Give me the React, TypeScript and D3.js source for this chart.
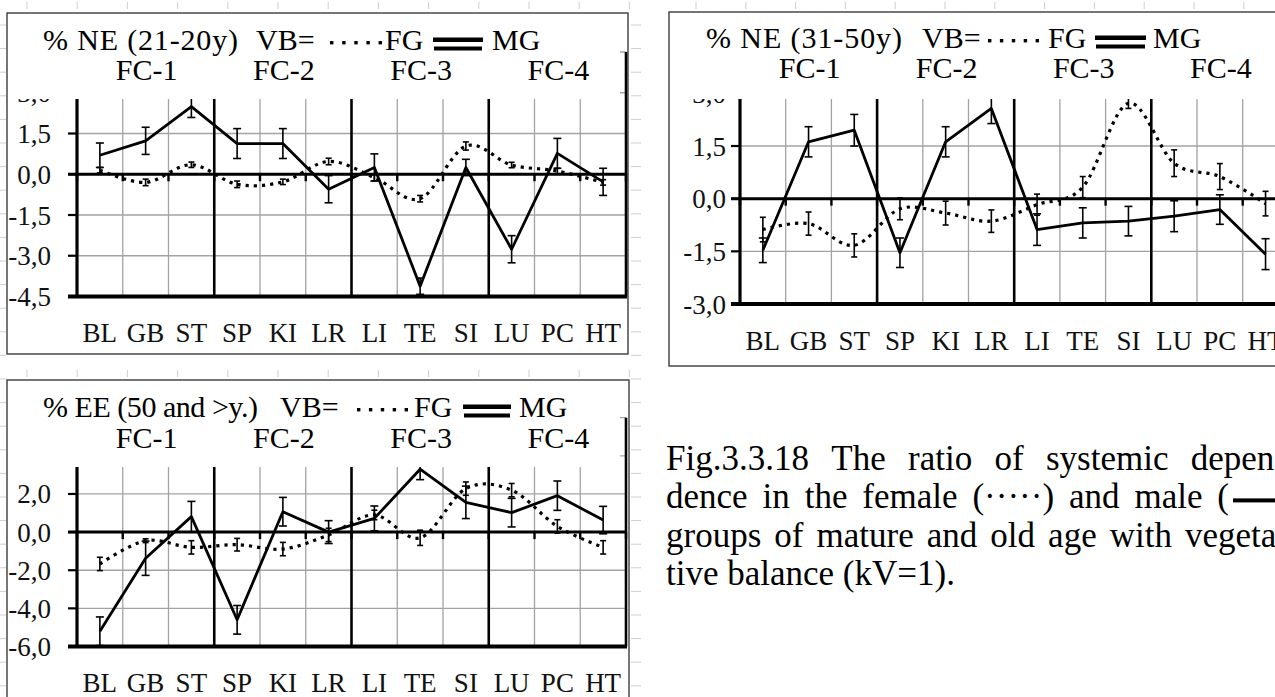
import { useEffect, useRef } from 'react';
import * as d3 from 'd3';

// categories (organ meridians) and functional circles
const organs = ['BL', 'GB', 'ST', 'SP', 'KI', 'LR', 'LI', 'TE', 'SI', 'LU', 'PC', 'HT'];
const groups = ['FC-1', 'FC-2', 'FC-3', 'FC-4'];

// % NE (21-20y)
const ne21MG = [0.7, 1.23, 2.49, 1.13, 1.13, -0.55, 0.25, -4.12, 0.25, -2.76, 0.77, -0.28];
const ne21MGErr = [0.45, 0.5, 0.4, 0.55, 0.55, 0.5, 0.5, 0.3, 0.3, 0.5, 0.55, 0.5];
const ne21FG = [0.15, -0.3, 0.35, -0.37, -0.28, 0.47, -0.12, -0.9, 1.04, 0.34, 0.12, -0.3];
const ne21FGErr = [0.1, 0.12, 0.1, 0.12, 0.1, 0.12, 0.12, 0.12, 0.15, 0.1, 0.1, 0.1];
const ne21Ticks = [-4.5, -3, -1.5, 0, 1.5, 3, 4.5];

// % NE (31-50y)
const ne31MG = [-1.47, 1.62, 1.95, -1.54, 1.62, 2.57, -0.88, -0.69, -0.64, -0.5, -0.31, -1.58];
const ne31MGErr = [0.35, 0.43, 0.45, 0.42, 0.43, 0.43, 0.45, 0.43, 0.42, 0.44, 0.42, 0.44];
const ne31FG = [-0.88, -0.71, -1.33, -0.29, -0.41, -0.64, -0.17, 0.33, 2.72, 1.01, 0.63, -0.14];
const ne31FGErr = [0.35, 0.33, 0.33, 0.31, 0.34, 0.32, 0.3, 0.3, 0.15, 0.38, 0.37, 0.35];
const ne31Ticks = [-3, -1.5, 0, 1.5, 3, 4.5];

// % EE (50 and >y.)
const ee50MG = [-5.2, -1.37, 0.81, -4.6, 1.07, 0.0, 0.72, 3.3, 1.56, 1.02, 1.91, 0.63];
const ee50MGErr = [0.75, 0.9, 0.8, 0.75, 0.75, 0.6, 0.65, 0.55, 0.85, 0.75, 0.77, 0.72];
const ee50FG = [-1.67, -0.45, -0.8, -0.66, -0.89, -0.15, 0.9, -0.3, 2.28, 2.2, 0.3, -0.8];
const ee50FGErr = [0.35, 0.1, 0.35, 0.33, 0.35, 0.35, 0.25, 0.4, 0.35, 0.35, 0.35, 0.35];
const ee50Ticks = [-6, -4, -2, 0, 2, 4, 6];

const captionLines = [
  'Fig.3.3.18 The ratio of systemic depen-',
  'dence in the female (·····) and male (',
  'groups of mature and old age with vegeta-',
  'tive balance (kV=1).',
];

const W = 1275;
const H = 697;
const serif = '"Liberation Serif", "Times New Roman", serif';

const fmt = d3
  .formatLocale({ decimal: ',', thousands: ' ', grouping: [3], currency: ['', ''], minus: '-' })
  .format('.1f');

const panels = [
  {
    title: '% NE (21-20y)', titleX: 43, titleLen: 195, vbX: 256,
    fgX: 385, mgX: 492, row1: 50, row2: 80,
    dotsX: [330, 382], dblX: [433, 483],
    frame: [7, 13, 628, 354], cover: [9, 15, 611, 84],
    left: 77, step: 45.75, top: 52, bottom: 296.5, domain: [-4.5, 4.5], labelX: 51,
    ticks: ne21Ticks, mg: ne21MG, mgErr: ne21MGErr, fg: ne21FG, fgErr: ne21FGErr,
  },
  {
    title: '% NE (31-50y)', titleX: 706, titleLen: 196, vbX: 922,
    fgX: 1048, mgX: 1153, row1: 48, row2: 78,
    dotsX: [988, 1039], dblX: [1095, 1146],
    frame: [669, 12, 1295, 366], cover: [671, 14, 620, 85],
    left: 740, step: 45.7, top: 40.7, bottom: 304, domain: [-3, 4.5], labelX: 726,
    ticks: ne31Ticks, mg: ne31MG, mgErr: ne31MGErr, fg: ne31FG, fgErr: ne31FGErr,
  },
  {
    title: '% EE (50 and >y.)', titleX: 43, titleLen: 215, vbX: 280,
    fgX: 414, mgX: 519, row1: 417, row2: 448,
    dotsX: [357, 408], dblX: [463, 511],
    frame: [7, 380, 629, 720], cover: [9, 382, 611, 85],
    left: 77, step: 45.75, top: 417.7, bottom: 646.5, domain: [-6, 6], labelX: 51,
    ticks: ee50Ticks, mg: ee50MG, mgErr: ee50MGErr, fg: ee50FG, fgErr: ee50FGErr,
  },
];

function drawStubs(svg: any) {
  const g = svg.append('g').attr('stroke', '#cfcfcf').attr('stroke-width', 1);
  const colA = d3.range(0, 13).map(k => 27 + 50.2 * k);
  const colB = d3.range(0, 12).map(k => 696 + 49.8 * k);
  [...colA, ...colB].forEach(x => {
    g.append('line').attr('x1', x).attr('x2', x).attr('y1', 2).attr('y2', 9);
  });
  colA.forEach(x => {
    g.append('line').attr('x1', x).attr('x2', x).attr('y1', 370).attr('y2', 377);
  });
  d3.range(0, 29).map(k => 25 + 23.6 * k).forEach(y => {
    g.append('line').attr('x1', 0).attr('x2', 6).attr('y1', y).attr('y2', y);
    g.append('line').attr('x1', 631).attr('x2', 641).attr('y1', y).attr('y2', y);
  });
}

function drawPanel(svg: any, p: any) {
  const g = svg.append('g');
  const [fx0, fy0, fx1, fy1] = p.frame;
  g.append('rect')
    .attr('x', fx0).attr('y', fy0)
    .attr('width', fx1 - fx0).attr('height', fy1 - fy0)
    .attr('fill', '#fff').attr('stroke', '#3c3c3c').attr('stroke-width', 1.4);

  const x = d3.scaleBand().domain(organs).range([p.left, p.left + organs.length * p.step]);
  const y = d3.scaleLinear().domain(p.domain).range([p.bottom, p.top]);
  const [x0, x1] = x.range();
  const cx = (i: number) => (x(organs[i]) as number) + x.bandwidth() / 2;
  const edges = d3.range(organs.length + 1).map(i => x0 + i * x.step());
  const y0 = y(0);
  const coverBottom = p.cover[1] + p.cover[3];

  // grid
  p.ticks.filter((v: number) => v !== 0 && v !== p.domain[0]).forEach((v: number) => {
    g.append('line').attr('x1', x0).attr('x2', x1).attr('y1', y(v)).attr('y2', y(v))
      .attr('stroke', '#a3a3a3').attr('stroke-width', 1.3);
  });
  edges.forEach((e, i) => {
    if (i === 0) return;
    const sep = i % 3 === 0;
    g.append('line').attr('x1', e).attr('x2', e).attr('y1', p.top).attr('y2', p.bottom)
      .attr('stroke', sep ? '#000' : '#a3a3a3').attr('stroke-width', sep ? 2.6 : 1.3);
  });

  // axes
  g.append('line').attr('x1', x0).attr('x2', x0).attr('y1', p.top).attr('y2', p.bottom + 1.5)
    .attr('stroke', '#000').attr('stroke-width', 3.2);
  p.ticks.forEach((v: number) => {
    g.append('line').attr('x1', x0 - 9).attr('x2', x0).attr('y1', y(v)).attr('y2', y(v))
      .attr('stroke', '#000').attr('stroke-width', 2.2);
  });
  g.append('line').attr('x1', x0 - 9).attr('x2', x1).attr('y1', y0).attr('y2', y0)
    .attr('stroke', '#000').attr('stroke-width', 3);
  g.append('line').attr('x1', x0 - 9).attr('x2', x1 + 1).attr('y1', p.bottom).attr('y2', p.bottom)
    .attr('stroke', '#000').attr('stroke-width', 3.8);
  edges.forEach(e => {
    g.append('line').attr('x1', e).attr('x2', e).attr('y1', y0).attr('y2', y0 + 7)
      .attr('stroke', '#000').attr('stroke-width', 2.4);
  });

  // female group: dotted smoothed line
  const fgLine = d3.line<number>().x((_, i) => cx(i)).y(v => y(v)).curve(d3.curveCatmullRom.alpha(0));
  g.append('path').attr('d', fgLine(p.fg)).attr('fill', 'none')
    .attr('stroke', '#000').attr('stroke-width', 3.2).attr('stroke-dasharray', '3.2 5');

  // male group: solid line
  const mgLine = d3.line<number>().x((_, i) => cx(i)).y(v => y(v));
  g.append('path').attr('d', mgLine(p.mg)).attr('fill', 'none')
    .attr('stroke', '#000').attr('stroke-width', 2.8).attr('stroke-linejoin', 'round');

  const bars = g.append('g').attr('stroke', '#000').attr('stroke-width', 1.6);
  const errBars = (vals: number[], errs: number[], cap: number) => {
    vals.forEach((v, i) => {
      const xx = cx(i);
      const ya = y(v + errs[i]);
      const yb = y(v - errs[i]);
      bars.append('line').attr('x1', xx).attr('x2', xx).attr('y1', ya).attr('y2', yb);
      bars.append('line').attr('x1', xx - cap).attr('x2', xx + cap).attr('y1', ya).attr('y2', ya);
      bars.append('line').attr('x1', xx - cap).attr('x2', xx + cap).attr('y1', yb).attr('y2', yb);
    });
  };
  errBars(p.fg, p.fgErr, 3);
  errBars(p.mg, p.mgErr, 4);

  // y tick labels (the ones fully under the title box are left out)
  p.ticks.filter((v: number) => y(v) + 9.5 > coverBottom).forEach((v: number) => {
    g.append('text').attr('x', p.labelX).attr('y', y(v) + 9.5).attr('text-anchor', 'end')
      .attr('font-family', serif).attr('font-size', 27).attr('fill', '#111').text(fmt(v));
  });

  // title box on top of the plot
  const [bx, by, bw, bh] = p.cover;
  g.append('rect').attr('x', bx).attr('y', by).attr('width', bw).attr('height', bh).attr('fill', '#fff');

  const txt = (s: string, xx: number, yy: number, len?: number, anchor = 'start') => {
    const t = g.append('text').attr('x', xx).attr('y', yy).attr('text-anchor', anchor)
      .attr('font-family', serif).attr('font-size', 30).attr('fill', '#000').text(s);
    if (len) t.attr('textLength', len).attr('lengthAdjust', 'spacing');
  };
  txt(p.title, p.titleX, p.row1, p.titleLen);
  txt('VB=', p.vbX, p.row1);
  txt('FG', p.fgX, p.row1);
  txt('MG', p.mgX, p.row1);

  // legend symbols
  const [dx0, dx1] = p.dotsX;
  d3.range(5).forEach(k => {
    const c = dx0 + 1.7 + (k * (dx1 - dx0 - 3.4)) / 4;
    g.append('rect').attr('x', c - 1.7).attr('y', p.row1 - 9).attr('width', 3.4).attr('height', 3.4).attr('fill', '#000');
  });
  const [lx0, lx1] = p.dblX;
  g.append('rect').attr('x', lx0).attr('y', p.row1 - 12.5).attr('width', lx1 - lx0).attr('height', 4.5).attr('fill', '#000');
  g.append('rect').attr('x', lx0 + 1).attr('y', p.row1 - 3.5).attr('width', lx1 - lx0 - 2).attr('height', 4).attr('fill', '#000');

  groups.forEach((s, k) => {
    txt(s, (edges[k * 3] + edges[k * 3 + 3]) / 2 + 1, p.row2, undefined, 'middle');
  });

  // category labels
  organs.forEach((s, i) => {
    g.append('text').attr('x', cx(i)).attr('y', p.bottom + 45.5).attr('text-anchor', 'middle')
      .attr('font-family', serif).attr('font-size', 27).attr('fill', '#111').text(s);
  });
}

function drawCaption(svg: any) {
  const g = svg.append('g').attr('font-family', serif).attr('font-size', 35).attr('fill', '#000');
  const x0 = 666;
  const ends = [1286, 1229, 1288, null];
  captionLines.forEach((line, i) => {
    const yb = 470 + i * 38.4;
    const words = line.split(' ');
    const nodes = words.map(w => g.append('text').attr('y', yb).text(w));
    const widths = nodes.map(n => (n.node() as SVGTextElement).getComputedTextLength());
    const end = ends[i];
    const gap = end ? (end - x0 - d3.sum(widths)) / (words.length - 1) : 8.75;
    let cur = x0;
    nodes.forEach((n, j) => {
      n.attr('x', cur);
      cur += widths[j] + gap;
    });
    if (i === 1) {
      g.append('rect').attr('x', 1233).attr('y', yb - 10).attr('width', 60).attr('height', 4).attr('fill', '#000');
    }
  });
}

const App = () => {
  const ref = useRef<SVGSVGElement>(null);

  useEffect(() => {
    const svg = d3.select(ref.current);
    svg.selectAll('*').remove();
    drawStubs(svg);
    panels.forEach(p => drawPanel(svg, p));
    drawCaption(svg);
  }, []);

  return (
    <svg
      ref={ref}
      width={W}
      height={H}
      style={{ position: 'absolute', left: 0, top: 0, background: '#fff' }}
    />
  );
};

export default App;
